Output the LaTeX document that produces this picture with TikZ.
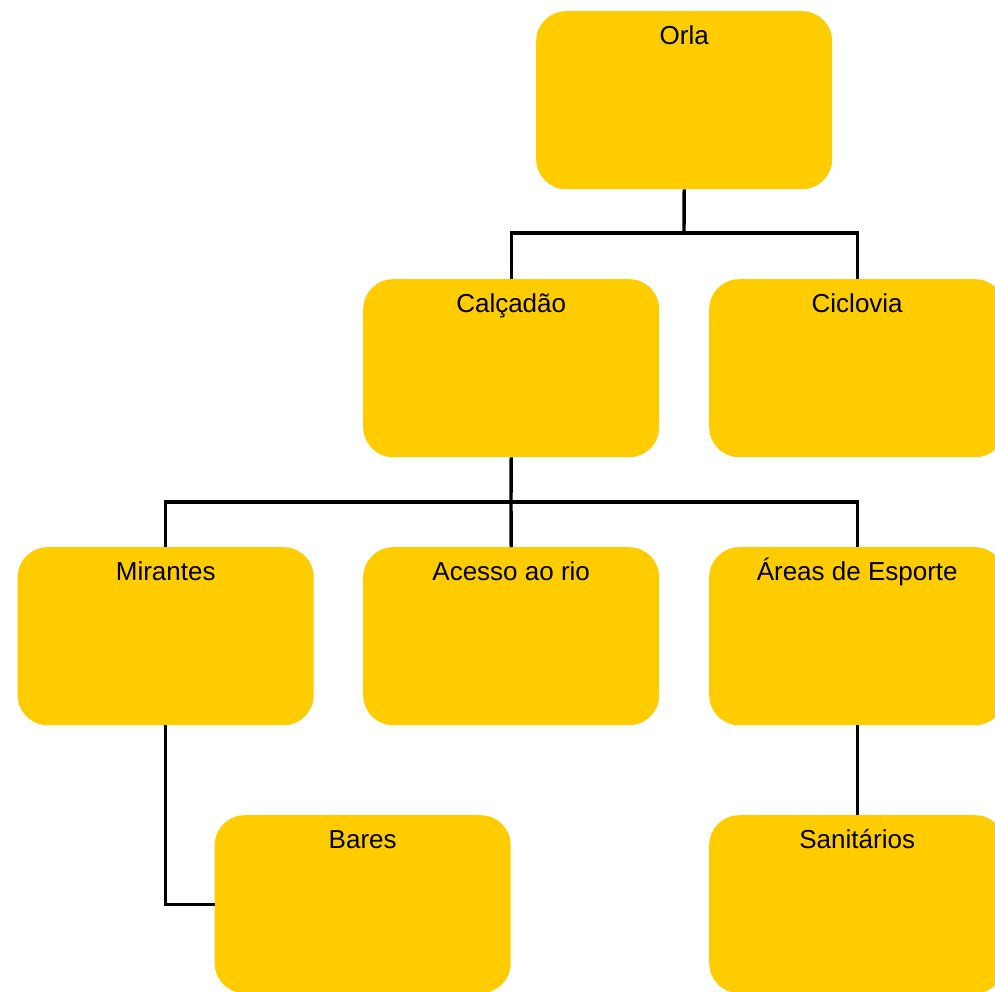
\documentclass[tikz,border=0pt]{standalone}
\usepackage{fontspec}
\setmainfont{Liberation Sans}
\definecolor{boxyellow}{RGB}{255,204,0}
\begin{document}
\begin{tikzpicture}[x=1pt,y=-1pt,
  box/.style={fill=boxyellow, draw=none, rounded corners=30pt, minimum width=296pt, minimum height=178pt, inner sep=0pt, anchor=north west,
    label={[anchor=base, yshift=-33pt, font=\fontsize{26pt}{30pt}\selectfont]north:#1}},
  conn/.style={draw=black, line width=3.4pt}]
\useasboundingbox (0,0) rectangle (995,991);
\clip (0,0) rectangle (995,991);
\node[box=Orla] (orla) at (536,11) {};
\node[box=Calçadão] (calc) at (363,279) {};
\node[box=Ciclovia] (cic) at (709,279) {};
\node[box=Mirantes] (mir) at (17.5,547) {};
\node[box=Acesso ao rio] (ace) at (363,547) {};
\node[box=Áreas de Esporte] (are) at (709,547) {};
\node[box=Bares] (bar) at (214.5,815) {};
\node[box=Sanitários] (san) at (709,815) {};
\coordinate (j1) at (684,233);
\coordinate (j2) at (511,502);
\draw[conn] (orla.south) -- (j1);
\draw[conn] (calc.north) |- (j1) -| (cic.north);
\draw[conn] (calc.south) -- (j2);
\draw[conn] (mir.north) |- (j2) -| (are.north);
\draw[conn] (ace.north) -- (j2);
\draw[conn] (mir.south) |- (bar.west);
\draw[conn] (are.south) -- (san.north);
\end{tikzpicture}
\end{document}
